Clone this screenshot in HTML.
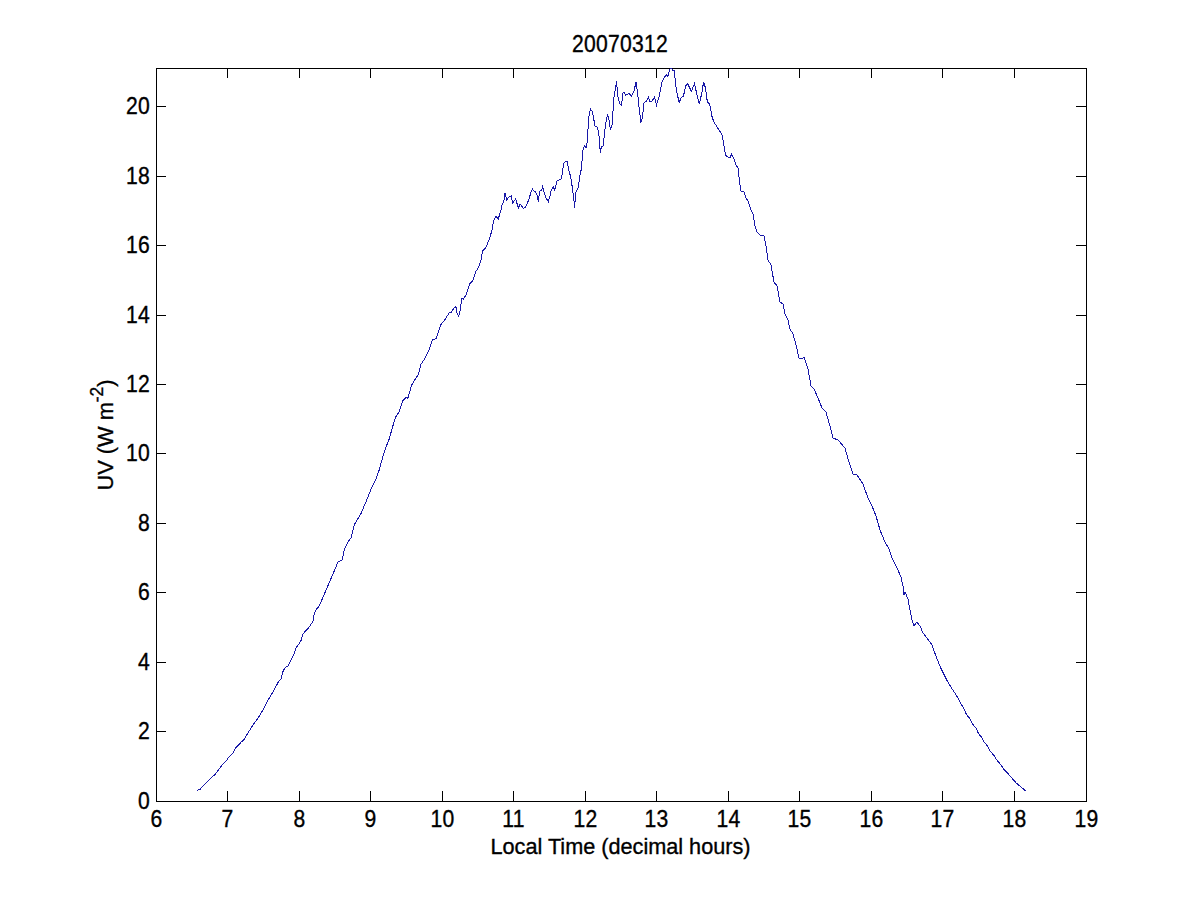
<!DOCTYPE html>
<html><head><meta charset="utf-8"><style>
html,body{margin:0;padding:0;background:#fff;width:1200px;height:900px;overflow:hidden}
svg{display:block}
text{font-family:"Liberation Sans",sans-serif;font-size:23px;fill:#000;stroke:#000;stroke-width:0.35px}
</style></head><body>
<svg width="1200" height="900" viewBox="0 0 1200 900">
<rect width="1200" height="900" fill="#fff"/>
<rect x="156.5" y="68.5" width="930" height="733" fill="none" stroke="#000" stroke-width="1"/><line x1="156.5" y1="801" x2="156.5" y2="791" stroke="#000"/><line x1="156.5" y1="69" x2="156.5" y2="78" stroke="#000"/><text transform="translate(156.5,827) scale(0.92,1)" text-anchor="middle" style="font-size:23px;letter-spacing:0.25px" >6</text><line x1="227.5" y1="801" x2="227.5" y2="791" stroke="#000"/><line x1="227.5" y1="69" x2="227.5" y2="78" stroke="#000"/><text transform="translate(227.5,827) scale(0.92,1)" text-anchor="middle" style="font-size:23px;letter-spacing:0.25px" >7</text><line x1="299.5" y1="801" x2="299.5" y2="791" stroke="#000"/><line x1="299.5" y1="69" x2="299.5" y2="78" stroke="#000"/><text transform="translate(299.5,827) scale(0.92,1)" text-anchor="middle" style="font-size:23px;letter-spacing:0.25px" >8</text><line x1="370.5" y1="801" x2="370.5" y2="791" stroke="#000"/><line x1="370.5" y1="69" x2="370.5" y2="78" stroke="#000"/><text transform="translate(370.5,827) scale(0.92,1)" text-anchor="middle" style="font-size:23px;letter-spacing:0.25px" >9</text><line x1="442.5" y1="801" x2="442.5" y2="791" stroke="#000"/><line x1="442.5" y1="69" x2="442.5" y2="78" stroke="#000"/><text transform="translate(442.5,827) scale(0.92,1)" text-anchor="middle" style="font-size:23px;letter-spacing:0.25px" >10</text><line x1="513.5" y1="801" x2="513.5" y2="791" stroke="#000"/><line x1="513.5" y1="69" x2="513.5" y2="78" stroke="#000"/><text transform="translate(513.5,827) scale(0.92,1)" text-anchor="middle" style="font-size:23px;letter-spacing:0.25px" >11</text><line x1="585.5" y1="801" x2="585.5" y2="791" stroke="#000"/><line x1="585.5" y1="69" x2="585.5" y2="78" stroke="#000"/><text transform="translate(585.5,827) scale(0.92,1)" text-anchor="middle" style="font-size:23px;letter-spacing:0.25px" >12</text><line x1="656.5" y1="801" x2="656.5" y2="791" stroke="#000"/><line x1="656.5" y1="69" x2="656.5" y2="78" stroke="#000"/><text transform="translate(656.5,827) scale(0.92,1)" text-anchor="middle" style="font-size:23px;letter-spacing:0.25px" >13</text><line x1="728.5" y1="801" x2="728.5" y2="791" stroke="#000"/><line x1="728.5" y1="69" x2="728.5" y2="78" stroke="#000"/><text transform="translate(728.5,827) scale(0.92,1)" text-anchor="middle" style="font-size:23px;letter-spacing:0.25px" >14</text><line x1="799.5" y1="801" x2="799.5" y2="791" stroke="#000"/><line x1="799.5" y1="69" x2="799.5" y2="78" stroke="#000"/><text transform="translate(799.5,827) scale(0.92,1)" text-anchor="middle" style="font-size:23px;letter-spacing:0.25px" >15</text><line x1="871.5" y1="801" x2="871.5" y2="791" stroke="#000"/><line x1="871.5" y1="69" x2="871.5" y2="78" stroke="#000"/><text transform="translate(871.5,827) scale(0.92,1)" text-anchor="middle" style="font-size:23px;letter-spacing:0.25px" >16</text><line x1="942.5" y1="801" x2="942.5" y2="791" stroke="#000"/><line x1="942.5" y1="69" x2="942.5" y2="78" stroke="#000"/><text transform="translate(942.5,827) scale(0.92,1)" text-anchor="middle" style="font-size:23px;letter-spacing:0.25px" >17</text><line x1="1014.5" y1="801" x2="1014.5" y2="791" stroke="#000"/><line x1="1014.5" y1="69" x2="1014.5" y2="78" stroke="#000"/><text transform="translate(1014.5,827) scale(0.92,1)" text-anchor="middle" style="font-size:23px;letter-spacing:0.25px" >18</text><line x1="1086.5" y1="801" x2="1086.5" y2="791" stroke="#000"/><line x1="1086.5" y1="69" x2="1086.5" y2="78" stroke="#000"/><text transform="translate(1086.5,827) scale(0.92,1)" text-anchor="middle" style="font-size:23px;letter-spacing:0.25px" >19</text><line x1="156" y1="801.5" x2="166" y2="801.5" stroke="#000"/><line x1="1086" y1="801.5" x2="1076" y2="801.5" stroke="#000"/><text transform="translate(150,808.5) scale(0.92,1)" text-anchor="end" style="font-size:23px;letter-spacing:0.25px" >0</text><line x1="156" y1="731.5" x2="166" y2="731.5" stroke="#000"/><line x1="1086" y1="731.5" x2="1076" y2="731.5" stroke="#000"/><text transform="translate(150,738.5) scale(0.92,1)" text-anchor="end" style="font-size:23px;letter-spacing:0.25px" >2</text><line x1="156" y1="662.5" x2="166" y2="662.5" stroke="#000"/><line x1="1086" y1="662.5" x2="1076" y2="662.5" stroke="#000"/><text transform="translate(150,669.5) scale(0.92,1)" text-anchor="end" style="font-size:23px;letter-spacing:0.25px" >4</text><line x1="156" y1="592.5" x2="166" y2="592.5" stroke="#000"/><line x1="1086" y1="592.5" x2="1076" y2="592.5" stroke="#000"/><text transform="translate(150,599.5) scale(0.92,1)" text-anchor="end" style="font-size:23px;letter-spacing:0.25px" >6</text><line x1="156" y1="523.5" x2="166" y2="523.5" stroke="#000"/><line x1="1086" y1="523.5" x2="1076" y2="523.5" stroke="#000"/><text transform="translate(150,530.5) scale(0.92,1)" text-anchor="end" style="font-size:23px;letter-spacing:0.25px" >8</text><line x1="156" y1="453.5" x2="166" y2="453.5" stroke="#000"/><line x1="1086" y1="453.5" x2="1076" y2="453.5" stroke="#000"/><text transform="translate(150,460.5) scale(0.92,1)" text-anchor="end" style="font-size:23px;letter-spacing:0.25px" >10</text><line x1="156" y1="384.5" x2="166" y2="384.5" stroke="#000"/><line x1="1086" y1="384.5" x2="1076" y2="384.5" stroke="#000"/><text transform="translate(150,391.5) scale(0.92,1)" text-anchor="end" style="font-size:23px;letter-spacing:0.25px" >12</text><line x1="156" y1="315.5" x2="166" y2="315.5" stroke="#000"/><line x1="1086" y1="315.5" x2="1076" y2="315.5" stroke="#000"/><text transform="translate(150,322.5) scale(0.92,1)" text-anchor="end" style="font-size:23px;letter-spacing:0.25px" >14</text><line x1="156" y1="245.5" x2="166" y2="245.5" stroke="#000"/><line x1="1086" y1="245.5" x2="1076" y2="245.5" stroke="#000"/><text transform="translate(150,252.5) scale(0.92,1)" text-anchor="end" style="font-size:23px;letter-spacing:0.25px" >16</text><line x1="156" y1="176.5" x2="166" y2="176.5" stroke="#000"/><line x1="1086" y1="176.5" x2="1076" y2="176.5" stroke="#000"/><text transform="translate(150,183.5) scale(0.92,1)" text-anchor="end" style="font-size:23px;letter-spacing:0.25px" >18</text><line x1="156" y1="106.5" x2="166" y2="106.5" stroke="#000"/><line x1="1086" y1="106.5" x2="1076" y2="106.5" stroke="#000"/><text transform="translate(150,113.5) scale(0.92,1)" text-anchor="end" style="font-size:23px;letter-spacing:0.25px" >20</text>
<text transform="translate(620,52) scale(0.92,1)" text-anchor="middle" style="font-size:23px;letter-spacing:0.25px" >20070312</text>
<text transform="translate(620.5,854) scale(0.985,1)" text-anchor="middle" style="font-size:22px;letter-spacing:0px" >Local Time (decimal hours)</text>
<text transform="translate(113,435) rotate(-90) scale(0.99,1)" text-anchor="middle" style="font-size:22px">UV (W m<tspan dy="-10.5" font-size="17.5">-2</tspan><tspan dy="10.5">)</tspan></text>
<polyline fill="none" stroke="#1818a8" stroke-width="1" shape-rendering="crispEdges" points="197.1,790.3 200.3,789.2 202.4,786.6 205.6,783.4 210.8,778.1 215.1,774.4 219.3,768.6 223.5,763.4 225.6,761.8 229.3,756.5 232.0,754.4 235.7,748.0 241.5,741.7 244.1,739.6 247.8,733.3 253.1,724.8 258.4,717.4 262.6,710.6 267.3,701.3 272.7,692.4 278.9,680.9 280.9,679.1 283.1,671.1 285.3,667.1 288.0,666.2 290.7,660.4 294.2,653.3 296.4,647.1 298.2,644.9 300.9,640.9 303.1,633.8 308.0,628.4 312.9,621.8 314.2,614.2 316.4,609.3 319.1,606.2 320.9,602.2 325.6,591.1 333.3,573.3 337.8,562.2 342.2,560.0 344.4,548.9 347.8,542.2 351.1,537.8 354.4,524.4 361.1,513.3 366.7,500.0 371.1,488.9 375.6,480.0 379.5,469.2 383.2,455.0 385.1,449.3 388.9,439.9 392.7,426.6 395.5,417.2 399.3,411.5 403.1,400.2 405.9,397.4 407.8,398.3 411.6,385.1 414.4,380.3 418.2,374.7 421.0,364.3 424.8,358.6 428.6,351.0 432.4,339.7 436.2,338.8 440.9,324.6 445.0,319.5 447.5,315.5 449.5,312.5 451.5,312.0 452.5,310.0 455.2,306.5 456.0,307.5 456.8,312.5 458.5,316.0 459.8,313.0 460.5,307.5 462.0,298.5 463.2,299.2 466.0,295.0 467.8,290.0 469.4,284.2 472.6,281.1 475.7,271.8 478.8,267.1 481.1,259.3 482.7,250.8 485.8,247.7 489.7,238.3 492.0,229.8 493.5,221.2 495.9,216.5 498.2,218.9 500.5,211.9 502.1,204.9 504.4,199.4 505.0,193.3 506.7,200.0 508.3,197.5 511.4,195.6 512.5,203.0 515.8,198.9 518.3,208.3 520.0,203.9 523.3,208.3 525.6,207.2 528.9,199.4 531.4,190.6 532.5,189.2 534.4,191.4 535.6,191.7 537.5,196.4 538.3,201.7 538.9,197.2 539.4,191.1 541.7,190.6 542.5,185.3 543.3,189.7 545.6,197.2 548.3,201.7 549.7,197.2 551.1,190.7 553.3,186.7 554.7,190.2 556.9,180.9 560.9,179.1 562.2,173.8 563.6,164.0 565.3,161.3 567.1,161.8 568.9,170.2 570.7,177.3 572.4,188.0 574.2,202.2 574.7,207.6 575.6,192.4 578.2,188.0 580.0,174.7 581.3,169.3 582.2,159.1 583.0,150.0 584.5,145.5 586.0,148.0 587.5,140.0 588.5,119.0 590.5,109.0 592.5,112.0 595.0,126.0 597.5,127.5 599.0,136.0 600.4,153.3 601.3,147.1 603.1,145.8 605.5,125.0 607.5,114.0 609.0,120.0 610.5,130.0 612.5,123.0 613.5,100.0 615.0,91.0 616.5,81.5 618.0,97.0 620.0,104.0 621.5,105.0 623.0,93.0 624.0,92.0 625.5,95.0 629.0,93.5 631.5,96.0 634.0,91.0 636.0,82.0 637.5,92.0 639.0,107.0 641.0,122.5 642.5,117.0 644.0,103.0 646.5,101.0 648.5,97.0 650.0,102.0 652.0,101.0 654.5,97.0 656.5,105.0 659.0,97.0 662.0,82.0 664.0,78.0 666.1,74.7 667.8,76.4 669.4,70.3 670.5,68.3 671.7,68.9 673.3,70.8 674.4,70.2 675.5,84.4 677.3,94.2 679.2,102.8 681.0,97.9 683.4,96.1 685.9,85.7 687.7,83.8 691.4,91.2 694.4,83.8 696.9,94.2 699.3,104.0 701.8,93.0 703.6,82.0 705.5,88.1 707.3,101.6 709.7,104.0 712.2,117.5 714.6,123.6 715.8,124.8 719.5,130.9 722.0,134.6 723.8,144.4 725.6,155.4 727.5,156.6 729.9,157.8 731.7,154.1 733.6,157.8 736.0,165.1 738.0,168.0 740.0,185.0 741.0,191.0 744.0,192.0 746.0,198.0 748.0,201.0 751.0,210.0 753.0,214.0 755.0,226.0 757.0,232.0 760.0,235.0 764.0,236.0 766.0,246.0 768.0,260.0 771.0,265.0 774.0,282.0 777.0,286.0 780.0,302.0 783.0,304.0 785.0,314.0 788.0,320.0 790.0,329.0 793.0,334.0 796.0,345.0 799.0,358.0 802.0,359.0 804.0,357.0 808.0,369.0 811.0,386.0 814.0,389.0 818.0,398.0 822.0,408.0 826.0,412.0 830.0,426.0 833.0,438.0 838.0,440.0 845.0,448.0 849.0,462.0 853.0,474.0 857.0,475.0 863.0,484.0 868.0,498.0 872.0,506.0 876.0,516.0 880.0,530.0 885.0,542.0 889.0,549.0 892.0,558.0 897.0,568.0 901.0,577.0 903.0,586.0 904.0,595.0 905.0,592.0 908.0,599.0 910.0,610.0 912.0,620.0 914.0,626.0 917.0,622.0 920.0,626.0 923.0,633.0 927.0,638.0 932.0,645.0 936.7,658.3 941.7,670.0 946.7,680.0 951.7,688.3 956.7,695.8 960.6,703.4 963.5,707.5 966.4,714.5 969.3,718.0 972.3,723.8 975.8,727.9 978.7,733.8 981.6,737.3 984.5,742.5 988.0,746.6 990.3,751.3 993.8,755.3 997.3,760.6 1000.8,764.7 1004.3,769.9 1007.8,773.4 1011.3,777.5 1016.0,782.8 1020.7,786.8 1026.5,791.5"/>
</svg>
</body></html>
